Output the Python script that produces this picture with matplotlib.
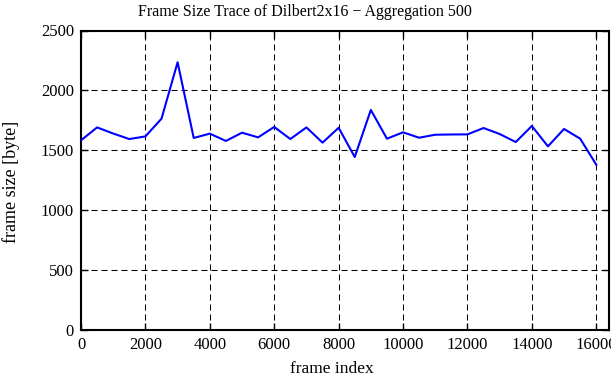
import matplotlib
matplotlib.use("Agg")
import matplotlib.pyplot as plt

# frame index (aggregation of 500 frames) and mean frame size in bytes
frame_index = [0, 500, 1000, 1500, 2000, 2500, 3000, 3500, 4000, 4500,
               5000, 5500, 6000, 6500, 7000, 7500, 8000, 8500, 9000, 9500,
               10000, 10500, 11000, 11500, 12000, 12500, 13000, 13500, 14000,
               14500, 15000, 15500, 16000]
frame_size = [1583, 1691, 1640, 1594, 1616, 1764, 2235, 1603, 1639, 1578,
              1647, 1608, 1695, 1594, 1691, 1564, 1688, 1444, 1837, 1597,
              1650, 1605, 1630, 1632, 1633, 1686, 1636, 1569, 1703,
              1533, 1678, 1597, 1380]

xticks = [0, 2000, 4000, 6000, 8000, 10000, 12000, 14000, 16000]
yticks = [0, 500, 1000, 1500, 2000, 2500]

plt.rcParams['font.family'] = ['Liberation Serif', 'DejaVu Serif']

fig = plt.figure(figsize=(6.11, 3.80), dpi=100)
ax = fig.add_axes([81/611, 1-330/380, (608.5-81)/611, (330-30.5)/380])

ax.plot(frame_index, frame_size, color='#0000ff', lw=1.5, zorder=3)

ax.set_xlim(0, 16380)
ax.set_ylim(0, 2500)
ax.set_xticks(xticks)
ax.set_yticks(yticks)
ax.grid(True, color='black', lw=0.75, linestyle=(0, (5.8, 3.8)))
ax.tick_params(direction='in', length=5, width=1, top=True, right=True,
               labelsize=12, pad=5)
for s in ax.spines.values():
    s.set_linewidth(1.5)

fig.text(305/611, 1-12/380, 'Frame Size Trace of Dilbert2x16 \u2212 Aggregation 500',
         ha='center', va='center', fontsize=11.5)
fig.text(332/611, 1-369/380, 'frame index', ha='center', va='center', fontsize=12.5)
fig.text(11/611, 1-182/380, 'frame size [byte]', ha='center', va='center',
         rotation=90, fontsize=13)

fig.savefig('out.png', dpi=100)
